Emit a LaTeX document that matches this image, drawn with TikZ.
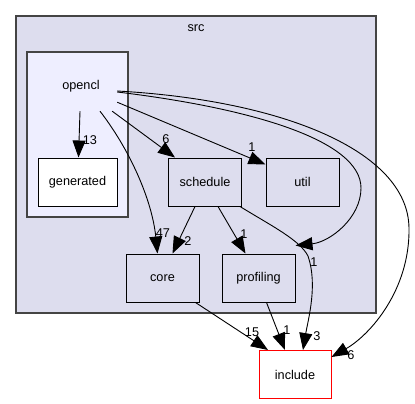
\documentclass[tikz,border=0pt]{standalone}
\usepackage{fontspec}
\setmainfont{Liberation Sans}
\usepackage{tikz}
\usetikzlibrary{arrows.meta}
\definecolor{clusterfill}{HTML}{DDDDEE}
\definecolor{innerfill}{HTML}{EEEEFF}
\definecolor{clusterline}{HTML}{444444}
\tikzset{deptip/.tip={Triangle[length=17pt,width=13pt]}}

\begin{document}
\begin{tikzpicture}[x=1pt,y=-1pt,
  every node/.style={font=\fontsize{12.7}{15}\selectfont},
  dirbox/.style={draw=black,fill=clusterfill,line width=1pt,minimum width=73pt,minimum height=48pt,inner sep=0pt},
  dep/.style={line width=0.9pt,-deptip},
  lbl/.style={inner sep=0pt}]
  \useasboundingbox (0,0) rectangle (415,404);
  % clusters
  \draw[fill=clusterfill,draw=clusterline,line width=1.4pt] (16,16) rectangle (376,313);
  \node (src) at (196,28) {src};
  \draw[fill=innerfill,draw=clusterline,line width=1.4pt] (27,52) rectangle (128,217);
  \node[minimum width=72pt,minimum height=50pt,inner sep=0pt] (opencl) at (81,86) {opencl};
  % directories
  \node[dirbox,fill=white,minimum width=79pt] (generated) at (77.5,182) {generated};
  \node[dirbox] (schedule) at (205,182) {schedule};
  \node[dirbox] (util) at (302.5,182) {util};
  \node[dirbox] (core) at (162.5,278) {core};
  \node[dirbox] (profiling) at (258.5,278) {profiling};
  \node[dirbox,draw=red,fill=white,minimum width=72pt] (include) at (295,374.5) {include};
  % dependencies
  \draw[dep] ([xshift=-1pt]opencl.south) -- ([xshift=1pt]generated.north);
  \node[lbl] (l13) at (90,140) {13};
  \draw[dep] ([xshift=19pt]opencl.south) .. controls (130,150) and (152,200) .. ([xshift=-5pt]core.north);
  \node[lbl] (l47) at (163,233) {47};
  \draw[dep] ([xshift=-5pt]opencl.south east) -- ([xshift=-30pt]schedule.north);
  \node[lbl] (l6a) at (166,139) {6};
  \draw[dep] ([yshift=9pt]opencl.south east) -- ([yshift=-7pt]util.north west);
  \node[lbl] (l1a) at (252,147) {1};
  \draw[dep] ([yshift=-6pt]opencl.east) .. controls (250,108) and (361,140) .. (361,188)
     .. controls (361,218) and (330,242) .. ([yshift=8pt]profiling.north east);
  \node[lbl] (l1b) at (314,262) {1};
  \draw[dep] ([yshift=-5pt]opencl.east) .. controls (280,100) and (408,150) .. (409,228)
     .. controls (410,290) and (370,335) .. ([yshift=-7pt]include.north east);
  \node[lbl] (l6b) at (351,355) {6};
  \draw[dep] ([xshift=-10pt]schedule.south) -- ([xshift=10pt]core.north);
  \node[lbl] (l2) at (188,241) {2};
  \draw[dep] ([xshift=13pt]schedule.south) -- ([xshift=-13pt]profiling.north);
  \node[lbl] (l1c) at (244,234) {1};
  \draw[dep] ([xshift=-2pt]schedule.south east) .. controls (270,225) and (300,240) .. (308,256)
     .. controls (318,285) and (308,320) .. ([xshift=8pt]include.north);
  \node[lbl] (l3) at (317,336) {3};
  \draw[dep] ([xshift=-4pt]core.south east) -- ([xshift=-27pt]include.north);
  \node[lbl] (l15) at (252,332) {15};
  \draw[dep] ([xshift=8pt]profiling.south) -- ([xshift=-10pt]include.north);
  \node[lbl] (l1d) at (287,330) {1};
\end{tikzpicture}
\end{document}
